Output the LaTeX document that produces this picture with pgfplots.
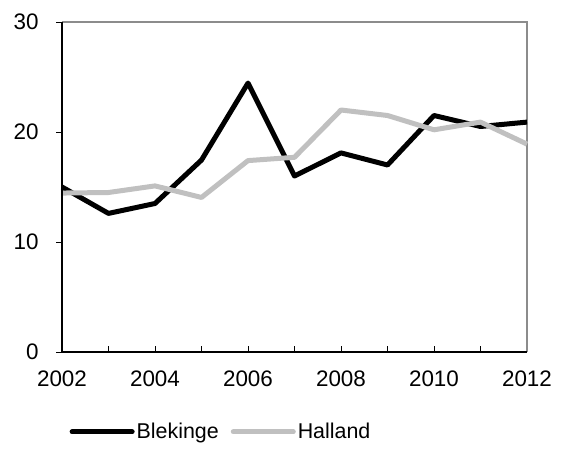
\documentclass[border=0pt]{standalone}
\usepackage{fontspec}
\setmainfont{Liberation Sans}
\usepackage{pgfplots}
\pgfplotsset{compat=1.18}
\definecolor{hal}{RGB}{192,192,192}
\definecolor{frame}{RGB}{140,140,140}
\begin{document}
\begin{tikzpicture}
\useasboundingbox (-62bp,-119bp) rectangle (500bp,352bp);
\begin{axis}[
  at={(0,0)}, anchor=south west,
  scale only axis, width=465bp, height=330bp,
  xmin=2002, xmax=2012, ymin=0, ymax=30,
  xtick={2002,2004,...,2012},
  minor xtick={2003,2005,...,2011},
  ytick={0,10,20,30},
  xticklabel style={/pgf/number format/1000 sep=},
  /pgf/number format/assume math mode=true,
  tick label style={font=\fontsize{22.5}{26}\selectfont},
  axis line style={draw=none},
  x tick style={black, line width=0.8pt},
  y tick style={black, line width=0.8pt},
  xtick align=inside, ytick align=outside,
  major tick length=6bp, minor tick length=6bp,
  minor x tick style={black, line width=0.8pt},
  xtick pos=bottom, ytick pos=left,
  yticklabel style={xshift=-14bp},
  xticklabel style={yshift=-15bp},
  clip=false,
  legend style={draw=none, at={(0.342,-0.242)}, anchor=center,
    font=\fontsize{21.5}{25}\selectfont, legend columns=2,
    /tikz/every even column/.append style={column sep=10bp}},
  legend image code/.code={\draw[#1, line width=5bp, line cap=round] (0bp,0bp) -- (60bp,0bp);},
]
\draw[frame, line width=1.6pt] (axis cs:2002,30) -- (axis cs:2012,30) -- (axis cs:2012,0);
\addplot[black, line width=5bp, line join=round] coordinates {
(2002,15.0) (2003,12.6) (2004,13.5) (2005,17.45) (2006,24.45) (2007,16.0)
(2008,18.1) (2009,17.0) (2010,21.5) (2011,20.5) (2012,20.9)};
\addlegendentry{Blekinge}
\addplot[hal, line width=5bp, line join=round] coordinates {
(2002,14.45) (2003,14.5) (2004,15.1) (2005,14.05) (2006,17.4) (2007,17.7)
(2008,22.0) (2009,21.5) (2010,20.2) (2011,20.9) (2012,18.9)};
\addlegendentry{Halland}
\draw[black, line width=1.2pt] (axis cs:2002,30) -- (axis cs:2002,0) -- (axis cs:2012,0);
\end{axis}
\end{tikzpicture}
\end{document}
